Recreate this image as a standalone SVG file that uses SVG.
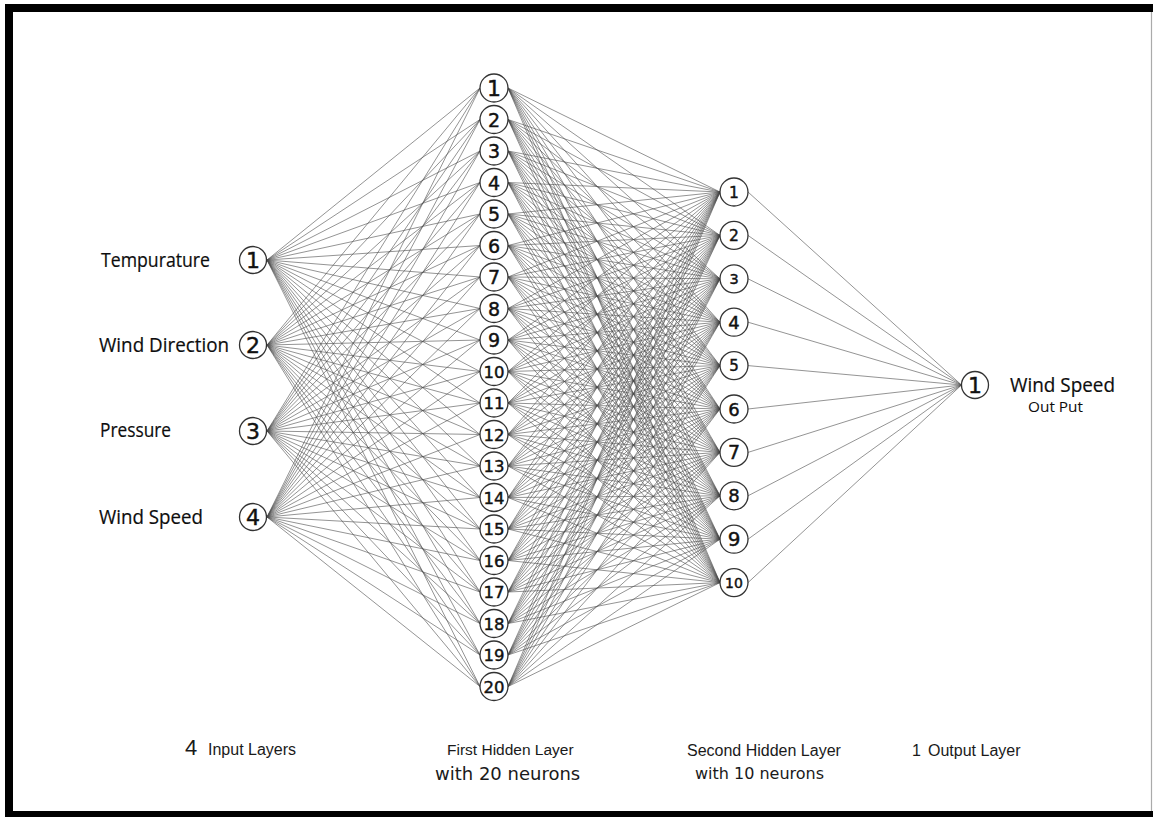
<svg xmlns="http://www.w3.org/2000/svg" width="1153" height="817" viewBox="0 0 1153 817">
<style>
.nd{fill:#fff;stroke:#333;stroke-width:1.3}
.num{font-family:"DejaVu Sans",Verdana,sans-serif;fill:#111;stroke:#111;stroke-width:0.45;text-anchor:middle}
.lbl{font-family:"Open Sans","Liberation Sans",sans-serif;fill:#0d0d0d;font-size:20px;stroke:#0d0d0d;stroke-width:0.2}
.ar{font-family:"Liberation Sans",Arial,sans-serif;fill:#1a1a1a;font-size:16px}
.vd{font-family:"DejaVu Sans",Verdana,sans-serif;fill:#1a1a1a}
.cn{fill:none;stroke:#4a4a4a;stroke-width:0.7;stroke-opacity:0.85}
</style>
<rect x="0" y="0" width="1153" height="817" fill="#fff"/>
<g id="frame">
<rect x="5" y="4" width="1148" height="8" fill="#000"/>
<rect x="5" y="4" width="8" height="813" fill="#000"/>
<rect x="5" y="811" width="1148" height="6" fill="#000"/>
<line x1="1151.5" y1="12" x2="1151.5" y2="811" stroke="#aaa" stroke-width="1.2"/>
</g>
<g id="connectors" class="cn">
<path d="M267 260L480 88M267 260L480 119.5M267 260L480 151M267 260L480 182.5M267 260L480 214M267 260L480 245.5M267 260L480 277M267 260L480 308.5M267 260L480 340M267 260L480 371.5M267 260L480 403M267 260L480 434.5M267 260L480 466M267 260L480 497.5M267 260L480 529M267 260L480 560.5M267 260L480 592M267 260L480 623.5M267 260L480 655M267 260L480 686.5"/>
<path d="M267 345L480 88M267 345L480 119.5M267 345L480 151M267 345L480 182.5M267 345L480 214M267 345L480 245.5M267 345L480 277M267 345L480 308.5M267 345L480 340M267 345L480 371.5M267 345L480 403M267 345L480 434.5M267 345L480 466M267 345L480 497.5M267 345L480 529M267 345L480 560.5M267 345L480 592M267 345L480 623.5M267 345L480 655M267 345L480 686.5"/>
<path d="M267 431L480 88M267 431L480 119.5M267 431L480 151M267 431L480 182.5M267 431L480 214M267 431L480 245.5M267 431L480 277M267 431L480 308.5M267 431L480 340M267 431L480 371.5M267 431L480 403M267 431L480 434.5M267 431L480 466M267 431L480 497.5M267 431L480 529M267 431L480 560.5M267 431L480 592M267 431L480 623.5M267 431L480 655M267 431L480 686.5"/>
<path d="M267 517L480 88M267 517L480 119.5M267 517L480 151M267 517L480 182.5M267 517L480 214M267 517L480 245.5M267 517L480 277M267 517L480 308.5M267 517L480 340M267 517L480 371.5M267 517L480 403M267 517L480 434.5M267 517L480 466M267 517L480 497.5M267 517L480 529M267 517L480 560.5M267 517L480 592M267 517L480 623.5M267 517L480 655M267 517L480 686.5"/>
<path d="M508 88L720 192M508 88L720 235.4M508 88L720 278.8M508 88L720 322.2M508 88L720 365.6M508 88L720 409M508 88L720 452.4M508 88L720 495.8M508 88L720 539.2M508 88L720 582.6"/>
<path d="M508 119.5L720 192M508 119.5L720 235.4M508 119.5L720 278.8M508 119.5L720 322.2M508 119.5L720 365.6M508 119.5L720 409M508 119.5L720 452.4M508 119.5L720 495.8M508 119.5L720 539.2M508 119.5L720 582.6"/>
<path d="M508 151L720 192M508 151L720 235.4M508 151L720 278.8M508 151L720 322.2M508 151L720 365.6M508 151L720 409M508 151L720 452.4M508 151L720 495.8M508 151L720 539.2M508 151L720 582.6"/>
<path d="M508 182.5L720 192M508 182.5L720 235.4M508 182.5L720 278.8M508 182.5L720 322.2M508 182.5L720 365.6M508 182.5L720 409M508 182.5L720 452.4M508 182.5L720 495.8M508 182.5L720 539.2M508 182.5L720 582.6"/>
<path d="M508 214L720 192M508 214L720 235.4M508 214L720 278.8M508 214L720 322.2M508 214L720 365.6M508 214L720 409M508 214L720 452.4M508 214L720 495.8M508 214L720 539.2M508 214L720 582.6"/>
<path d="M508 245.5L720 192M508 245.5L720 235.4M508 245.5L720 278.8M508 245.5L720 322.2M508 245.5L720 365.6M508 245.5L720 409M508 245.5L720 452.4M508 245.5L720 495.8M508 245.5L720 539.2M508 245.5L720 582.6"/>
<path d="M508 277L720 192M508 277L720 235.4M508 277L720 278.8M508 277L720 322.2M508 277L720 365.6M508 277L720 409M508 277L720 452.4M508 277L720 495.8M508 277L720 539.2M508 277L720 582.6"/>
<path d="M508 308.5L720 192M508 308.5L720 235.4M508 308.5L720 278.8M508 308.5L720 322.2M508 308.5L720 365.6M508 308.5L720 409M508 308.5L720 452.4M508 308.5L720 495.8M508 308.5L720 539.2M508 308.5L720 582.6"/>
<path d="M508 340L720 192M508 340L720 235.4M508 340L720 278.8M508 340L720 322.2M508 340L720 365.6M508 340L720 409M508 340L720 452.4M508 340L720 495.8M508 340L720 539.2M508 340L720 582.6"/>
<path d="M508 371.5L720 192M508 371.5L720 235.4M508 371.5L720 278.8M508 371.5L720 322.2M508 371.5L720 365.6M508 371.5L720 409M508 371.5L720 452.4M508 371.5L720 495.8M508 371.5L720 539.2M508 371.5L720 582.6"/>
<path d="M508 403L720 192M508 403L720 235.4M508 403L720 278.8M508 403L720 322.2M508 403L720 365.6M508 403L720 409M508 403L720 452.4M508 403L720 495.8M508 403L720 539.2M508 403L720 582.6"/>
<path d="M508 434.5L720 192M508 434.5L720 235.4M508 434.5L720 278.8M508 434.5L720 322.2M508 434.5L720 365.6M508 434.5L720 409M508 434.5L720 452.4M508 434.5L720 495.8M508 434.5L720 539.2M508 434.5L720 582.6"/>
<path d="M508 466L720 192M508 466L720 235.4M508 466L720 278.8M508 466L720 322.2M508 466L720 365.6M508 466L720 409M508 466L720 452.4M508 466L720 495.8M508 466L720 539.2M508 466L720 582.6"/>
<path d="M508 497.5L720 192M508 497.5L720 235.4M508 497.5L720 278.8M508 497.5L720 322.2M508 497.5L720 365.6M508 497.5L720 409M508 497.5L720 452.4M508 497.5L720 495.8M508 497.5L720 539.2M508 497.5L720 582.6"/>
<path d="M508 529L720 192M508 529L720 235.4M508 529L720 278.8M508 529L720 322.2M508 529L720 365.6M508 529L720 409M508 529L720 452.4M508 529L720 495.8M508 529L720 539.2M508 529L720 582.6"/>
<path d="M508 560.5L720 192M508 560.5L720 235.4M508 560.5L720 278.8M508 560.5L720 322.2M508 560.5L720 365.6M508 560.5L720 409M508 560.5L720 452.4M508 560.5L720 495.8M508 560.5L720 539.2M508 560.5L720 582.6"/>
<path d="M508 592L720 192M508 592L720 235.4M508 592L720 278.8M508 592L720 322.2M508 592L720 365.6M508 592L720 409M508 592L720 452.4M508 592L720 495.8M508 592L720 539.2M508 592L720 582.6"/>
<path d="M508 623.5L720 192M508 623.5L720 235.4M508 623.5L720 278.8M508 623.5L720 322.2M508 623.5L720 365.6M508 623.5L720 409M508 623.5L720 452.4M508 623.5L720 495.8M508 623.5L720 539.2M508 623.5L720 582.6"/>
<path d="M508 655L720 192M508 655L720 235.4M508 655L720 278.8M508 655L720 322.2M508 655L720 365.6M508 655L720 409M508 655L720 452.4M508 655L720 495.8M508 655L720 539.2M508 655L720 582.6"/>
<path d="M508 686.5L720 192M508 686.5L720 235.4M508 686.5L720 278.8M508 686.5L720 322.2M508 686.5L720 365.6M508 686.5L720 409M508 686.5L720 452.4M508 686.5L720 495.8M508 686.5L720 539.2M508 686.5L720 582.6"/>
<path d="M748 192L961.5 385M748 235.4L961.5 385M748 278.8L961.5 385M748 322.2L961.5 385M748 365.6L961.5 385M748 409L961.5 385M748 452.4L961.5 385M748 495.8L961.5 385M748 539.2L961.5 385M748 582.6L961.5 385"/>
</g>
<g id="input-labels" class="lbl">
<text x="101" y="267" textLength="109" lengthAdjust="spacingAndGlyphs">Tempurature</text>
<text x="99" y="352" textLength="130" lengthAdjust="spacingAndGlyphs">Wind Direction</text>
<text x="100" y="437" textLength="71" lengthAdjust="spacingAndGlyphs">Pressure</text>
<text x="99" y="524" textLength="104" lengthAdjust="spacingAndGlyphs">Wind Speed</text>
</g>
<g id="in1"><circle class="nd" cx="253" cy="260" r="13.5"/><text class="num" x="253" y="268" font-size="22">1</text></g>
<g id="in2"><circle class="nd" cx="253" cy="345" r="13.5"/><text class="num" x="253" y="353" font-size="22">2</text></g>
<g id="in3"><circle class="nd" cx="253" cy="431" r="13.5"/><text class="num" x="253" y="439" font-size="22">3</text></g>
<g id="in4"><circle class="nd" cx="253" cy="517" r="13.5"/><text class="num" x="253" y="525" font-size="22">4</text></g>
<g id="h1-1"><circle class="nd" cx="494" cy="88" r="14"/><text class="num" x="494" y="96" font-size="22">1</text></g>
<g id="h1-2"><circle class="nd" cx="494" cy="119.5" r="14"/><text class="num" x="494" y="126.5" font-size="19">2</text></g>
<g id="h1-3"><circle class="nd" cx="494" cy="151" r="14"/><text class="num" x="494" y="158" font-size="19">3</text></g>
<g id="h1-4"><circle class="nd" cx="494" cy="182.5" r="14"/><text class="num" x="494" y="189.5" font-size="19">4</text></g>
<g id="h1-5"><circle class="nd" cx="494" cy="214" r="14"/><text class="num" x="494" y="221" font-size="19">5</text></g>
<g id="h1-6"><circle class="nd" cx="494" cy="245.5" r="14"/><text class="num" x="494" y="252.5" font-size="19">6</text></g>
<g id="h1-7"><circle class="nd" cx="494" cy="277" r="14"/><text class="num" x="494" y="284" font-size="19">7</text></g>
<g id="h1-8"><circle class="nd" cx="494" cy="308.5" r="14"/><text class="num" x="494" y="315.5" font-size="19">8</text></g>
<g id="h1-9"><circle class="nd" cx="494" cy="340" r="14"/><text class="num" x="494" y="347" font-size="19">9</text></g>
<g id="h1-10"><circle class="nd" cx="494" cy="371.5" r="14"/><text class="num" x="494" y="377.5" font-size="16.5">10</text></g>
<g id="h1-11"><circle class="nd" cx="494" cy="403" r="14"/><text class="num" x="494" y="409" font-size="16.5">11</text></g>
<g id="h1-12"><circle class="nd" cx="494" cy="434.5" r="14"/><text class="num" x="494" y="440.5" font-size="16.5">12</text></g>
<g id="h1-13"><circle class="nd" cx="494" cy="466" r="14"/><text class="num" x="494" y="472" font-size="16.5">13</text></g>
<g id="h1-14"><circle class="nd" cx="494" cy="497.5" r="14"/><text class="num" x="494" y="503.5" font-size="16.5">14</text></g>
<g id="h1-15"><circle class="nd" cx="494" cy="529" r="14"/><text class="num" x="494" y="535" font-size="16.5">15</text></g>
<g id="h1-16"><circle class="nd" cx="494" cy="560.5" r="14"/><text class="num" x="494" y="566.5" font-size="16.5">16</text></g>
<g id="h1-17"><circle class="nd" cx="494" cy="592" r="14"/><text class="num" x="494" y="598" font-size="16.5">17</text></g>
<g id="h1-18"><circle class="nd" cx="494" cy="623.5" r="14"/><text class="num" x="494" y="629.5" font-size="16.5">18</text></g>
<g id="h1-19"><circle class="nd" cx="494" cy="655" r="14"/><text class="num" x="494" y="661" font-size="16.5">19</text></g>
<g id="h1-20"><circle class="nd" cx="494" cy="686.5" r="14"/><text class="num" x="494" y="692.5" font-size="16.5">20</text></g>
<g id="h2-1"><circle class="nd" cx="734" cy="192" r="14"/><text class="num" x="734" y="197.5" font-size="15.5">1</text></g>
<g id="h2-2"><circle class="nd" cx="734" cy="235.4" r="14"/><text class="num" x="734" y="241" font-size="15.5">2</text></g>
<g id="h2-3"><circle class="nd" cx="734" cy="278.8" r="14"/><text class="num" x="734" y="284" font-size="14.5">3</text></g>
<g id="h2-4"><circle class="nd" cx="734" cy="322.2" r="14"/><text class="num" x="734" y="328.6" font-size="18">4</text></g>
<g id="h2-5"><circle class="nd" cx="734" cy="365.6" r="14"/><text class="num" x="734" y="371" font-size="15">5</text></g>
<g id="h2-6"><circle class="nd" cx="734" cy="409" r="14"/><text class="num" x="734" y="415.5" font-size="18">6</text></g>
<g id="h2-7"><circle class="nd" cx="734" cy="452.4" r="14"/><text class="num" x="734" y="459" font-size="19">7</text></g>
<g id="h2-8"><circle class="nd" cx="734" cy="495.8" r="14"/><text class="num" x="734" y="502.3" font-size="18">8</text></g>
<g id="h2-9"><circle class="nd" cx="734" cy="539.2" r="14"/><text class="num" x="734" y="546.3" font-size="20">9</text></g>
<g id="h2-10"><circle class="nd" cx="734" cy="582.6" r="14"/><text class="num" x="734" y="587.6" font-size="14">10</text></g>
<g id="out1"><circle class="nd" cx="975" cy="385" r="13.5"/><text class="num" x="975" y="393" font-size="22">1</text></g>
<g id="output-labels">
<text class="lbl" x="1010" y="392" textLength="105" lengthAdjust="spacingAndGlyphs">Wind Speed</text>
<text class="lbl" x="1028" y="412" style="font-size:14px;stroke-width:0" textLength="55" lengthAdjust="spacingAndGlyphs">Out Put</text>
</g>
<g id="layer-captions">
<text class="ar" x="185" y="755" style="font-size:22px">4</text>
<text class="ar" x="208" y="755">Input Layers</text>
<text class="ar" x="447" y="755" style="font-size:15.5px">First Hidden Layer</text>
<text class="vd" x="435" y="780" font-size="18">with 20 neurons</text>
<text class="ar" x="687" y="756">Second Hidden Layer</text>
<text class="vd" x="695" y="779" font-size="16">with 10 neurons</text>
<text class="ar" x="912" y="756">1</text>
<text class="ar" x="928" y="756">Output Layer</text>
</g>
</svg>
